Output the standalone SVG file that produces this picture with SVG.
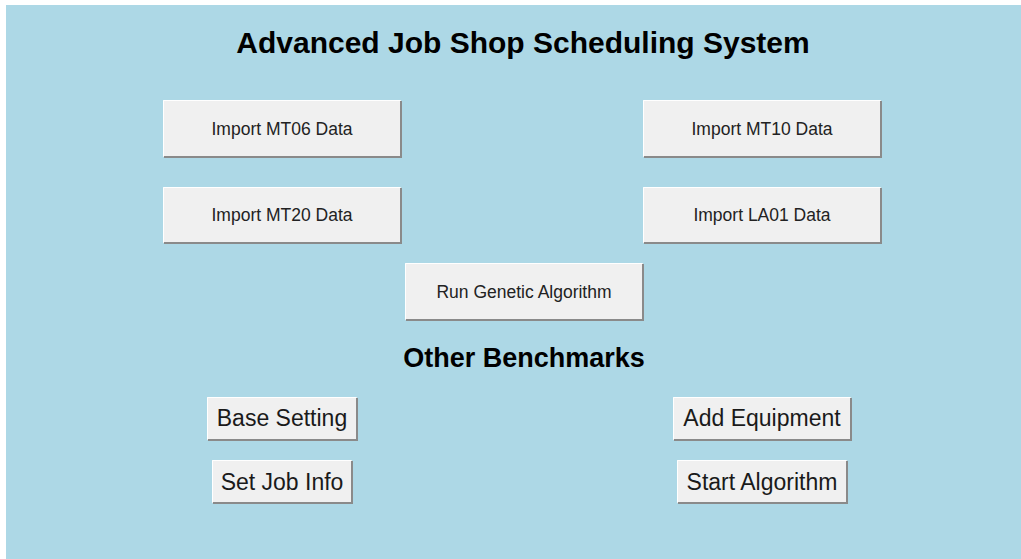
<svg xmlns="http://www.w3.org/2000/svg" width="1021" height="559" viewBox="0 0 1021 559">
<defs>
<style>
.btn rect.face{fill:#f0f0f0;}
.btn path.shd{fill:none;stroke:#8a8a8a;stroke-width:2;}
.btn path.hl{fill:none;stroke:#ffffff;stroke-width:1;}
.t1{font-family:"Liberation Sans",Arial,sans-serif;font-size:17.5px;fill:#222;text-anchor:middle;}
.t2{font-family:"Liberation Sans",Arial,sans-serif;font-size:23px;fill:#1a1a1a;text-anchor:middle;}
.hd{font-family:"Liberation Sans",Arial,sans-serif;font-weight:bold;fill:#000;text-anchor:middle;}
</style>
</defs>
<rect x="0" y="0" width="1021" height="559" fill="#ffffff"/>
<rect x="6" y="5" width="1015" height="554" fill="#add8e6"/>
<text class="hd" x="523" y="53" font-size="30">Advanced Job Shop Scheduling System</text>
<text class="hd" x="524" y="367" font-size="27">Other Benchmarks</text>

<g id="btn-mt06" class="btn">
<rect class="face" x="163" y="100" width="238" height="57"/>
<path class="shd" d="M164 157 H401 V101"/>
<path class="hl" d="M163.5 156 V100.5 H400"/>
<text class="t1" x="282" y="135">Import MT06 Data</text>
</g>
<g id="btn-mt10" class="btn">
<rect class="face" x="643" y="100" width="238" height="57"/>
<path class="shd" d="M644 157 H881 V101"/>
<path class="hl" d="M643.5 156 V100.5 H880"/>
<text class="t1" x="762" y="135">Import MT10 Data</text>
</g>
<g id="btn-mt20" class="btn">
<rect class="face" x="163" y="187" width="238" height="56"/>
<path class="shd" d="M164 243 H401 V188"/>
<path class="hl" d="M163.5 242 V187.5 H400"/>
<text class="t1" x="282" y="221">Import MT20 Data</text>
</g>
<g id="btn-la01" class="btn">
<rect class="face" x="643" y="187" width="238" height="56"/>
<path class="shd" d="M644 243 H881 V188"/>
<path class="hl" d="M643.5 242 V187.5 H880"/>
<text class="t1" x="762" y="221">Import LA01 Data</text>
</g>
<g id="btn-ga" class="btn">
<rect class="face" x="405" y="263" width="238" height="57"/>
<path class="shd" d="M406 320 H643 V264"/>
<path class="hl" d="M405.5 319 V263.5 H642"/>
<text class="t1" x="524" y="298">Run Genetic Algorithm</text>
</g>
<g id="btn-base" class="btn">
<rect class="face" x="207" y="397" width="150" height="43"/>
<path class="shd" d="M208 440 H357 V398"/>
<path class="hl" d="M207.5 439 V397.5 H356"/>
<text class="t2" x="282" y="426">Base Setting</text>
</g>
<g id="btn-job" class="btn">
<rect class="face" x="212" y="460" width="140" height="43"/>
<path class="shd" d="M213 503 H352 V461"/>
<path class="hl" d="M212.5 502 V460.5 H351"/>
<text class="t2" x="282" y="490">Set Job Info</text>
</g>
<g id="btn-equip" class="btn">
<rect class="face" x="673" y="397" width="178" height="43"/>
<path class="shd" d="M674 440 H851 V398"/>
<path class="hl" d="M673.5 439 V397.5 H850"/>
<text class="t2" x="762" y="426">Add Equipment</text>
</g>
<g id="btn-start" class="btn">
<rect class="face" x="677" y="460" width="170" height="43"/>
<path class="shd" d="M678 503 H847 V461"/>
<path class="hl" d="M677.5 502 V460.5 H846"/>
<text class="t2" x="762" y="490">Start Algorithm</text>
</g>
<g id="connectors"></g>
</svg>
